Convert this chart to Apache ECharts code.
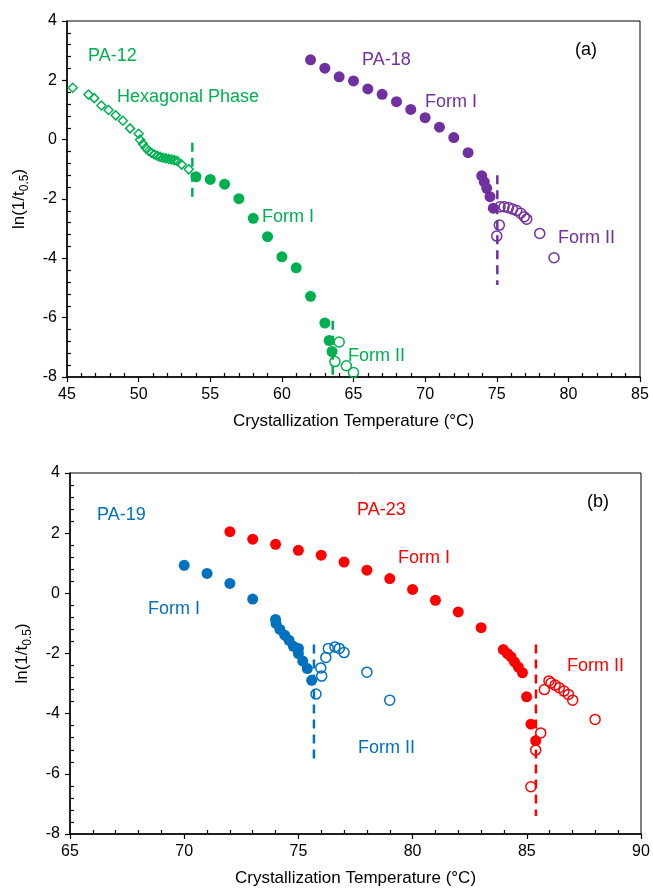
<!DOCTYPE html>
<html>
<head>
<meta charset="utf-8">
<script src="https://cdn.jsdelivr.net/npm/echarts@6/dist/echarts.min.js"></script>
<style>
  html, body { margin: 0; padding: 0; background: #fff; }
  #chart { width: 653px; height: 890px; }
</style>
</head>
<body>
<div id="chart"></div>
<script>
// (a) PA-12 / PA-18, (b) PA-19 / PA-23 — [T (°C), ln(1/t0.5)]
const pa12Hex = [
  [45.4, 1.75], [46.5, 1.52], [46.9, 1.40], [47.4, 1.15], [47.9, 1.00], [48.4, 0.82],
  [48.9, 0.64], [49.4, 0.38], [50.0, 0.20], [50.1, 0.00], [50.3, -0.15], [50.5, -0.28],
  [50.7, -0.38], [50.9, -0.45], [51.1, -0.50], [51.3, -0.54], [51.5, -0.58], [51.7, -0.61],
  [51.9, -0.63], [52.1, -0.65], [52.3, -0.67], [52.5, -0.69], [52.7, -0.72], [53.0, -0.84],
  [53.5, -1.00]
]
const pa12FormI = [
  [54, -1.25], [55, -1.34], [56, -1.50], [57, -1.99], [58, -2.65], [59, -3.27],
  [60, -3.95], [61, -4.32], [62, -5.28], [63, -6.18], [63.3, -6.77], [63.5, -7.14]
]
const pa12FormII = [[63.7, -7.48], [64.0, -6.82], [64.5, -7.62], [65.0, -7.85]]
const pa12Bound1 = [[53.75, -0.1], [53.75, -2.0]]
const pa12Bound2 = [[63.55, -6.1], [63.55, -8.0]]

const pa18FormI = [
  [62, 2.69], [63, 2.41], [64, 2.12], [65, 1.98], [66, 1.71], [67, 1.53], [68, 1.28],
  [69, 1.02], [70, 0.74], [71, 0.42], [72, 0.07], [73, -0.44], [73.95, -1.22],
  [74.13, -1.42], [74.3, -1.64], [74.53, -1.92], [74.76, -2.31]
]
const pa18FormII = [
  [75.23, -2.26], [75.51, -2.26], [75.81, -2.29], [76.11, -2.34], [76.39, -2.39],
  [76.67, -2.48], [76.92, -2.60], [77.09, -2.68], [75.18, -2.88], [75.0, -3.25],
  [78.0, -3.16], [79.0, -3.98]
]
const pa18Bound = [[75.04, -1.2], [75.04, -4.9]]

const pa19FormI = [
  [70, 0.93], [71, 0.66], [72, 0.33], [73, -0.19], [74.0, -0.87], [74.02, -1.0],
  [74.19, -1.2], [74.4, -1.39], [74.59, -1.56], [74.78, -1.76], [75.0, -1.83],
  [75.0, -2.0], [75.19, -2.25], [75.39, -2.5], [75.58, -2.89]
]
const pa19FormII = [
  [76.31, -1.83], [76.6, -1.78], [76.79, -1.83], [77.0, -1.97], [76.2, -2.13],
  [75.98, -2.48], [76.02, -2.75], [75.77, -3.35], [78.0, -2.62], [79.0, -3.55]
]
const pa19Bound = [[75.68, -1.7], [75.68, -5.5]]

const pa23FormI = [
  [72, 2.05], [73, 1.80], [74, 1.63], [75, 1.43], [76, 1.27], [77, 1.04], [78, 0.77],
  [79, 0.49], [80, 0.13], [81, -0.23], [82, -0.62], [83, -1.14], [83.97, -1.87],
  [84.15, -2.0], [84.31, -2.11], [84.46, -2.28], [84.63, -2.45], [84.81, -2.64],
  [84.99, -3.44], [85.18, -4.35], [85.39, -4.9]
]
const pa23FormII = [
  [85.77, -3.2], [85.97, -2.91], [86.06, -2.98], [86.24, -3.05], [86.42, -3.14],
  [86.63, -3.25], [86.82, -3.36], [87.01, -3.55], [87.99, -4.19], [85.61, -4.64],
  [85.39, -5.21], [85.18, -6.43]
]
const pa23Bound = [[85.4, -1.7], [85.4, -7.4]]

const xRangeA = [45, 85]
const xRangeB = [65, 90]
const yRange = [-8, 4]

const GREEN = '#00B050', PURPLE = '#7030A0', BLUE = '#0070C0', RED = '#FF0000'
const FONT = '"Liberation Sans", Arial, sans-serif'

const chart = echarts.init(document.getElementById('chart'), null, { renderer: 'canvas' })

function mainX(grid, range) {
  return {
    type: 'value', gridIndex: grid, position: 'bottom', min: range[0], max: range[1], interval: 5,
    name: 'Crystallization Temperature (\u00B0C)', nameLocation: 'middle', nameGap: 36,
    nameTextStyle: { color: '#000', fontSize: 17, fontFamily: FONT },
    axisLine: { onZero: false, lineStyle: { color: '#000', width: 1.5 } },
    axisTick: { length: 5, lineStyle: { color: '#000', width: 1.2 } },
    axisLabel: { color: '#000', fontSize: 16, fontFamily: FONT, margin: 10 },
    splitLine: { show: false }
  }
}
function minorX(grid, range) {
  return {
    type: 'value', gridIndex: grid, position: 'bottom', min: range[0], max: range[1], interval: 5,
    axisLine: { show: false, onZero: false }, axisLabel: { show: false }, splitLine: { show: false },
    axisTick: { show: false, inside: true },
    minorTick: { show: true, splitNumber: 5, length: 4, lineStyle: { color: '#000', width: 1.2 } }
  }
}
function mainY(grid) {
  return {
    type: 'value', gridIndex: grid, position: 'left', min: yRange[0], max: yRange[1], interval: 2,
    name: '{a|ln(1/t}{b|0.5}{a|)}', nameLocation: 'middle', nameGap: 36, nameRotate: 90,
    nameTextStyle: {
      rich: {
        a: { fontSize: 17, fontFamily: FONT, color: '#000', lineHeight: 24 },
        b: { fontSize: 12, fontFamily: FONT, color: '#000', lineHeight: 24, verticalAlign: 'bottom', padding: [6, 0, 0, 0] }
      }
    },
    axisLine: { onZero: false, lineStyle: { color: '#000', width: 1.5 } },
    axisTick: { length: 5, lineStyle: { color: '#000', width: 1.2 } },
    axisLabel: { color: '#000', fontSize: 16, fontFamily: FONT, margin: 10 },
    splitLine: { show: false }
  }
}
function minorY(grid) {
  return {
    type: 'value', gridIndex: grid, position: 'left', min: yRange[0], max: yRange[1], interval: 2,
    axisLine: { show: false, onZero: false }, axisLabel: { show: false }, splitLine: { show: false },
    axisTick: { show: false, inside: true },
    minorTick: { show: true, splitNumber: 5, length: 4, lineStyle: { color: '#000', width: 1.2 } }
  }
}

function filled(data, color, axis, size) {
  return {
    type: 'scatter', data, xAxisIndex: axis, yAxisIndex: axis,
    symbol: 'circle', symbolSize: size || 11, itemStyle: { color, opacity: 1 }, z: 3
  }
}
function open(data, color, axis, symbol, size) {
  return {
    type: 'scatter', data, xAxisIndex: axis, yAxisIndex: axis,
    symbol: symbol || 'circle', symbolSize: size || 10,
    itemStyle: { color: 'rgba(255,255,255,0)', borderColor: color, borderWidth: 1.5, opacity: 1 }, z: 3
  }
}
function dashed(data, color, axis) {
  return {
    type: 'line', data, xAxisIndex: axis, yAxisIndex: axis, symbol: 'none',
    lineStyle: { color, width: 2.5, type: [9, 6] }, z: 2
  }
}
function label(text, x, y, color) {
  return {
    type: 'text', x, y,
    style: { text, fill: color, font: '18px ' + FONT, align: 'left', verticalAlign: 'middle' }
  }
}

chart.setOption({
  animation: false,
  backgroundColor: '#fff',
  grid: [
    { left: 67, top: 21, width: 573, height: 356, show: true, borderColor: '#000', borderWidth: 1 },
    { left: 70, top: 473, width: 571, height: 361, show: true, borderColor: '#000', borderWidth: 1 }
  ],
  xAxis: [mainX(0, xRangeA), minorX(0, xRangeA), mainX(1, xRangeB), minorX(1, xRangeB)],
  yAxis: [mainY(0), minorY(0), mainY(1), minorY(1)],
  series: [
    open(pa12Hex, GREEN, 0, 'diamond', 9),
    filled(pa12FormI, GREEN, 0),
    open(pa12FormII, GREEN, 0),
    dashed(pa12Bound1, GREEN, 0),
    dashed(pa12Bound2, GREEN, 0),
    filled(pa18FormI, PURPLE, 0),
    open(pa18FormII, PURPLE, 0),
    dashed(pa18Bound, PURPLE, 0),
    filled(pa19FormI, BLUE, 2),
    open(pa19FormII, BLUE, 2),
    dashed(pa19Bound, BLUE, 2),
    filled(pa23FormI, RED, 2),
    open(pa23FormII, RED, 2),
    dashed(pa23Bound, RED, 2)
  ],
  graphic: [
    label('PA-12', 88, 56, GREEN),
    label('Hexagonal Phase', 117, 97, GREEN),
    label('Form I', 262, 217, GREEN),
    label('Form II', 348, 356, GREEN),
    label('PA-18', 362, 60, PURPLE),
    label('Form I', 425, 102, PURPLE),
    label('Form II', 558, 238, PURPLE),
    label('(a)', 575, 50, '#000'),
    label('PA-19', 97, 515, BLUE),
    label('PA-23', 357, 510, RED),
    label('Form I', 398, 558, RED),
    label('Form II', 567, 666, RED),
    label('Form I', 148, 609, BLUE),
    label('Form II', 358, 748, BLUE),
    label('(b)', 587, 502, '#000')
  ]
})
</script>
</body>
</html>
